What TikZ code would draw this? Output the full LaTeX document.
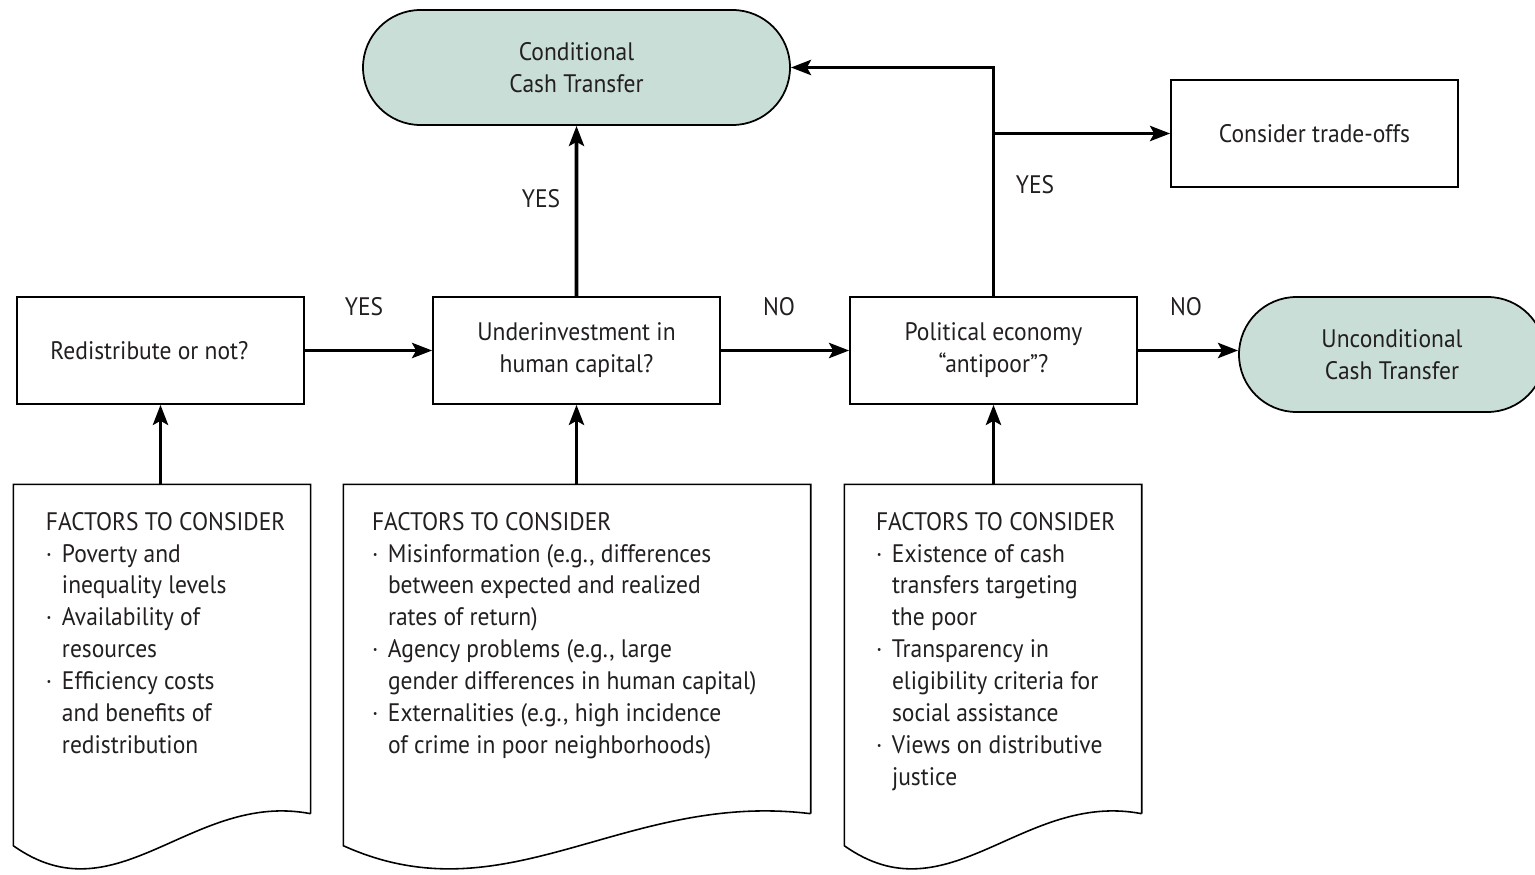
\documentclass[tikz,border=0pt]{standalone}
\usepackage{fontspec}
\setmainfont{PT Sans}[FakeStretch=0.93]
\usetikzlibrary{positioning}
\usetikzlibrary{arrows.meta}
\usetikzlibrary{shapes}
\usetikzlibrary{calc}
\definecolor{cashgreen}{RGB}{201,222,214}
\definecolor{inkgray}{RGB}{35,31,32}
\newcommand{\bul}{\makebox[0.16cm][l]{·}}
\newcommand{\ind}{\hspace*{0.16cm}}
% outline of a "document" around an empty node
\newcommand{\docpath}[1]{%
  \draw[line width=0.45pt, fill=white] (#1.south east) -- (#1.north east) -- (#1.north west)
    -- ([yshift=-0.32cm]#1.south west)
    .. controls ($(#1.south west)!0.35!(#1.south east)+(0,-1.06)$)
           and ($(#1.south west)!0.6!(#1.south east)+(0,0.23)$) .. (#1.south east);}
\tikzset{
        treenode/.style={align=center,inner sep=0pt},
        % Question boxes
        node_box/.style={treenode, rectangle, draw=black, line width=0.45pt, fill=white, text=inkgray, minimum width=2.87cm, minimum height=1.07cm},
        % Outcome nodes
        node_cash/.style={treenode, rounded rectangle, draw=black, line width=0.5pt, fill=cashgreen, text=inkgray, minimum height=1.15cm},
        % Factor documents
        node_doc/.style={rectangle, inner sep=0pt, minimum width=2.96cm, minimum height=3.28cm},
        node_list/.style={align=left, inner sep=0pt, text=inkgray, anchor=north west},
        % Answers
        node_answer/.style={inner sep=0pt, text=inkgray}
}
\begin{document}
\begin{tikzpicture}[
            font=\fontsize{7.2pt}{9.1pt}\selectfont,
            flow/.style={-{Stealth[length=0.2cm, width=0.15cm, inset=0.04cm]}, line width=1.1pt}
        ]
            \useasboundingbox (0,0) rectangle (15.35,8.74);
            % outcomes and questions
            \node[node_cash, minimum width=4.27cm] (cct) at (5.765,8.065) {Conditional\\Cash Transfer};
            \node[node_box] (trade) at (13.145,7.405) {Consider trade-offs};
            \node[node_box, text width=2.2cm, align=flush left] (redis) at (1.605,5.235) {Redistribute or not?};
            \node[node_box] (under) at (5.765,5.235) {Underinvestment in\\human capital?};
            \node[node_box] (polit) at (9.935,5.235) {Political economy\\“antipoor”?};
            \node[node_cash, minimum width=3.06cm] (ucct) at (13.92,5.195) {Unconditional\\Cash Transfer};

            % factor documents
            \node[node_doc] (fac_a) at (1.62,2.25) {};
            \node[node_doc, minimum width=4.66cm] (fac_b) at (5.77,2.25) {};
            \node[node_doc] (fac_c) at (9.93,2.25) {};
            \docpath{fac_a}
            \docpath{fac_b}
            \docpath{fac_c}
            \node[node_list] (fac_a_text) at ([xshift=0.32cm, yshift=-0.27cm]fac_a.north west)
                {FACTORS TO CONSIDER\\ \bul Poverty and\\ \ind inequality levels\\ \bul Availability of\\ \ind resources\\
                 \bul Efficiency costs\\ \ind and benefits of\\ \ind redistribution};
            \node[node_list] (fac_b_text) at ([xshift=0.28cm, yshift=-0.27cm]fac_b.north west)
                {FACTORS TO CONSIDER\\ \bul Misinformation (e.g., differences\\ \ind between expected and realized\\ \ind rates of return)\\
                 \bul Agency problems (e.g., large\\ \ind gender differences in human capital)\\
                 \bul Externalities (e.g., high incidence\\ \ind of crime in poor neighborhoods)};
            \node[node_list] (fac_c_text) at ([xshift=0.31cm, yshift=-0.27cm]fac_c.north west)
                {FACTORS TO CONSIDER\\ \bul Existence of cash\\ \ind transfers targeting\\ \ind the poor\\
                 \bul Transparency in\\ \ind eligibility criteria for\\ \ind social assistance\\
                 \bul Views on distributive\\ \ind justice};

            % connectors
            \draw[flow] (redis) -- (under);
            \draw[flow] (under) -- (polit);
            \draw[flow] (polit) -- (polit -| ucct.west);
            \draw[flow] (under) -- (cct);
            \draw[flow] (polit.north) |- (cct.east);
            \coordinate (branch) at (polit.north |- trade.west);
            \draw[flow] (branch) -- (trade);
            \draw[flow] (fac_a.north -| redis) -- (redis);
            \draw[flow] (fac_b.north -| under) -- (under);
            \draw[flow] (fac_c.north -| polit) -- (polit);

            % answers
            \node[node_answer] (yes_a) at (3.64,5.67) {YES};
            \node[node_answer] (no_a) at (7.79,5.67) {NO};
            \node[node_answer] (no_b) at (11.86,5.67) {NO};
            \node[node_answer] (yes_b) at (5.41,6.75) {YES};
            \node[node_answer] (yes_c) at (10.35,6.89) {YES};
        \end{tikzpicture}
\end{document}
